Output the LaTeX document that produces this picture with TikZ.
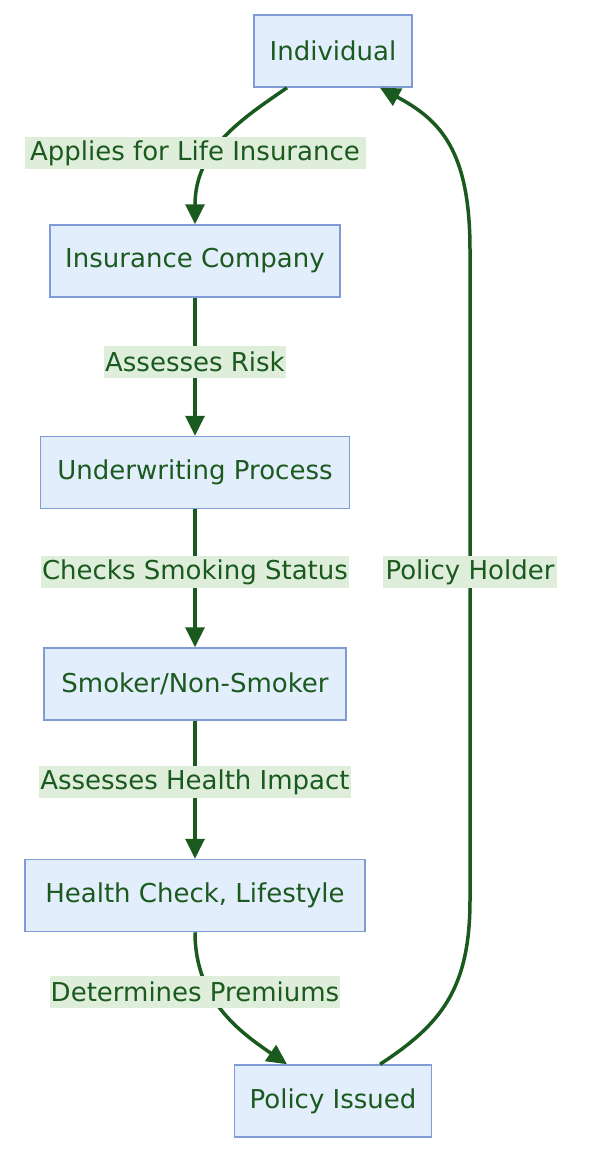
\documentclass[tikz,border=0pt]{standalone}
\usepackage{fontspec}
\setmainfont{DejaVu Sans}
\usetikzlibrary{arrows.meta,positioning}
\definecolor{flowgreen}{HTML}{1B5A1E}
\definecolor{boxfill}{HTML}{E3EEFC}
\definecolor{boxline}{HTML}{7F9CD6}
\definecolor{lblfill}{HTML}{DFEEDB}
\tikzset{
  bx/.style={draw=boxline, fill=boxfill, line width=1.5pt, minimum height=72pt, inner xsep=15pt, text=flowgreen},
  lbl/.style={fill=lblfill, inner xsep=1pt, inner ysep=0pt, minimum height=32pt, text=flowgreen},
  arr/.style={-{Triangle[length=20pt,width=19pt]}, line width=3.5pt, color=flowgreen},
}

\begin{document}
\begin{tikzpicture}[x=1pt, y=-1pt, font=\fontsize{26}{30}\selectfont, node distance=138pt]
  \useasboundingbox (0,0) rectangle (590,1153);
  \node[bx, minimum width=158pt] (ind) at (333,51) {Individual};
  \node[bx, minimum width=286pt] (comp) at (195,261) {Insurance Company};
  \node[bx, minimum width=309pt, below=of comp] (uw) {Underwriting Process};
  \node[bx, minimum width=302pt, below=of uw] (smk) {Smoker/Non-Smoker};
  \node[bx, minimum width=340pt, below=of smk] (hlth) {Health Check, Lifestyle};
  \node[bx, minimum width=196pt] (iss) at (333,1101) {Policy Issued};
  % connectors
  \draw[arr] ([xshift=-46pt]ind.south) .. controls (240,120) and (195,150) .. (comp.north);
  \foreach \a/\b in {comp/uw,uw/smk,smk/hlth} \draw[arr] (\a) -- (\b);
  \draw[arr] (hlth.south) .. controls (195,1000) and (240,1032) .. ([xshift=-46pt]iss.north);
  \draw[arr] ([xshift=47pt]iss.north) .. controls (440,1025) and (470,990) .. (470,900)
    -- (470,250) .. controls (470,150) and (440,120) .. ([xshift=47pt]ind.south);
  % labels
  \node[lbl, minimum width=341pt] (l1) at (195,153) {Applies for Life Insurance};
  \node[lbl, minimum width=173pt] (l2) at (195,362) {Assesses Risk};
  \node[lbl, minimum width=302pt] (l3) at (195,572) {Checks Smoking Status};
  \node[lbl, minimum width=308pt] (l4) at (195,782) {Assesses Health Impact};
  \node[lbl, minimum width=290pt] (l5) at (195,992) {Determines Premiums};
  \node[lbl, minimum width=174pt] (l6) at (470,572) {Policy Holder};
\end{tikzpicture}
\end{document}
